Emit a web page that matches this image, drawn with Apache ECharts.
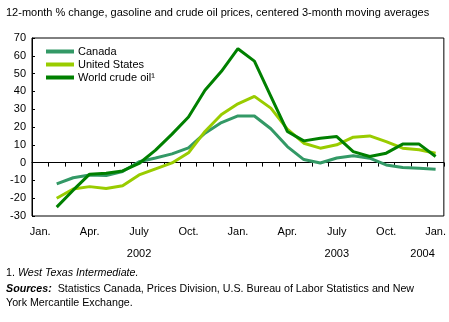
<!DOCTYPE html>
<html>
<head>
    <meta charset="utf-8">
    <title>Gasoline and crude oil prices</title>
    <script src="https://cdn.jsdelivr.net/npm/echarts@6/dist/echarts.min.js"></script>
    <style>
        html, body { margin: 0; padding: 0; background: #fff; }
    </style>
</head>
<body>
<div id="main" style="width: 449px;height: 322px;"></div>
<script>
    // months Jan 2002 .. Jan 2004
    var months = ['Jan.', 'Feb.', 'Mar.', 'Apr.', 'May', 'June', 'July', 'Aug.', 'Sep.', 'Oct.', 'Nov.', 'Dec.',
                  'Jan.', 'Feb.', 'Mar.', 'Apr.', 'May', 'June', 'July', 'Aug.', 'Sep.', 'Oct.', 'Nov.', 'Dec.',
                  'Jan.'];
    // year labels under the month axis
    var years = ['', '', '', '', '', '', '2002', '', '', '', '', '',
                 '', '', '', '', '', '', '2003', '', '', '', '', '',
                 '2004'];

    var canada = [null, -12, -8.5, -7, -7.3, -5, 0.5, 2.6, 4.9, 8.3, 16.5, 22.5,
                  26.2, 26.2, 19, 9, 1.7, -0.2, 2.6, 3.8, 2.5, -1.3, -2.8, -3.2, -3.7];
    var unitedStates = [null, -20, -14.8, -13.5, -14.6, -13, -6.9, -3.5, -0.2, 5.5, 17.5, 27,
                        33, 37.2, 30.6, 18.8, 10.9, 8.1, 10, 14.3, 15, 11.8, 8.1, 7.2, 5.3];
    var crudeOil = [null, -25, -15.5, -6.5, -6, -4.7, -0.5, 7, 16, 25.6, 40.6, 51.3,
                    64, 57, 37.2, 17.5, 12.2, 13.7, 14.6, 6.2, 3.4, 5.3, 10.4, 10.4, 3.4];

    var font = 'Liberation Sans, Arial, sans-serif';

    var myChart = echarts.init(document.getElementById('main'));
    var option = {
        animation: false,
        textStyle: { fontFamily: font },
        grid: {
            left: 32, top: 38, right: 5, bottom: 106,
            show: true, borderColor: '#000', borderWidth: 1
        },
        legend: {
            orient: 'vertical',
            left: 41, top: 41,
            icon: 'rect',
            itemWidth: 28,
            itemHeight: 4,
            itemGap: 2,
            textStyle: { color: '#000', fontSize: 11, fontFamily: font, padding: [0, 0, 0, -1] },
            data: ['Canada', 'United States', 'World crude oil\u00b9']
        },
        xAxis: [
            {
                type: 'category',
                data: months,
                boundaryGap: true,
                axisLine: { lineStyle: { color: '#000', width: 1 } },
                axisTick: { show: true, interval: 0, length: 4, lineStyle: { color: '#000' } },
                axisLabel: { interval: 2, color: '#000', fontSize: 11, fontFamily: font, margin: 10 }
            },
            {
                type: 'category',
                data: years,
                position: 'bottom',
                offset: 22,
                boundaryGap: true,
                axisLine: { show: false },
                axisTick: { show: false },
                axisLabel: {
                    interval: 0, color: '#000', fontSize: 11, fontFamily: font, margin: 10,
                    formatter: function (v) { return v === '2004' ? '{r|' + v + '}' : v; },
                    rich: { r: { color: '#000', fontSize: 11, fontFamily: font, padding: [0, 26, 0, 0] } }
                }
            }
        ],
        yAxis: {
            type: 'value',
            min: -30, max: 70, interval: 10,
            axisLine: { show: true, lineStyle: { color: '#000' } },
            axisTick: { show: true, inside: true, length: 3, lineStyle: { color: '#000' } },
            splitLine: { show: false },
            axisLabel: { color: '#000', fontSize: 11, fontFamily: font, margin: 6 }
        },
        series: [
            {
                name: 'Canada', type: 'line', data: canada,
                symbol: 'none', lineStyle: { color: '#339966', width: 3 }, itemStyle: { color: '#339966' }
            },
            {
                name: 'United States', type: 'line', data: unitedStates,
                symbol: 'none', lineStyle: { color: '#99cc00', width: 3 }, itemStyle: { color: '#99cc00' }
            },
            {
                name: 'World crude oil\u00b9', type: 'line', data: crudeOil,
                symbol: 'none', lineStyle: { color: '#008000', width: 3 }, itemStyle: { color: '#008000' }
            }
        ],
        graphic: [
            {
                type: 'text', left: 6, top: 7,
                style: { text: '12-month % change, gasoline and crude oil prices, centered 3-month moving averages',
                         fill: '#000', font: '11px ' + font }
            },
            {
                type: 'text', left: 6, top: 268,
                style: {
                    text: '1. {i|West Texas Intermediate.}',
                    fill: '#000', font: '10.7px ' + font,
                    rich: { i: { fontStyle: 'italic', fontSize: 10.7, fontFamily: font } }
                }
            },
            {
                type: 'text', left: 6, top: 282,
                style: {
                    text: '{b|Sources:}  Statistics Canada, Prices Division, U.S. Bureau of Labor Statistics and New\nYork Mercantile Exchange.',
                    fill: '#000', font: '10.7px ' + font, lineHeight: 14,
                    rich: { b: { fontStyle: 'italic', fontWeight: 'bold', fontSize: 10.7, fontFamily: font } }
                }
            }
        ]
    };
    myChart.setOption(option);
</script>
</body>
</html>
